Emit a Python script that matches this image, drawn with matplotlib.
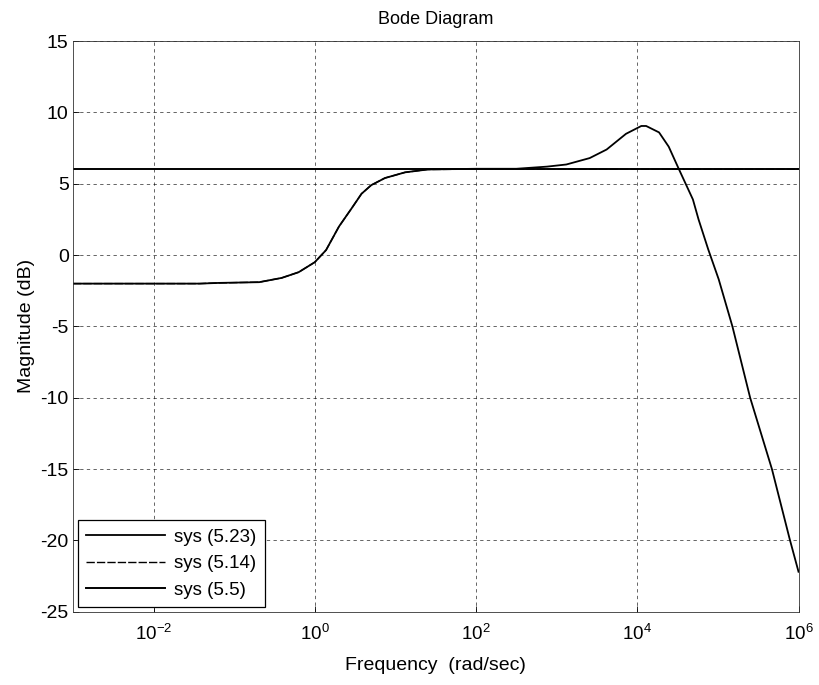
import matplotlib
matplotlib.use("Agg")
import matplotlib.pyplot as plt
import numpy as np

plt.rcParams['font.family'] = ['Liberation Sans', 'DejaVu Sans']
plt.rcParams['mathtext.default'] = 'regular'
plt.rcParams['axes.unicode_minus'] = False

# Magnitude responses (frequency in rad/sec, magnitude in dB)
freq_523 = [1e-3, 1e-2, 10**-1.43, 10**-1.18, 10**-0.69, 10**-0.41, 10**-0.2, 1.0,
            10**0.14, 10**0.30, 10**0.46, 10**0.58, 10**0.70, 10**0.87, 10**1.12,
            10**1.40, 1e2, 10**2.5, 10**2.88, 10**3.12, 10**3.41, 10**3.62, 10**3.86,
            10**4.05, 10**4.11, 10**4.27, 10**4.39, 10**4.51, 10**4.69, 10**4.76,
            10**4.88, 10**5.01, 10**5.18, 10**5.40, 10**5.67, 10**5.89, 1e6]
mag_523 = [-2.0, -2.0, -2.0, -1.95, -1.9, -1.6, -1.2, -0.5,
           0.35, 2.0, 3.3, 4.3, 4.9, 5.4, 5.8,
           6.0, 6.05, 6.05, 6.2, 6.35, 6.8, 7.4, 8.5,
           9.05, 9.05, 8.6, 7.6, 6.1, 3.9, 2.5,
           0.4, -1.7, -5.0, -10.0, -15.0, -19.9, -22.2]

freq_514 = [1e-3, 1e-2, 10**-1.43, 10**-1.18, 10**-0.69, 10**-0.41, 10**-0.2, 1.0,
            10**0.14, 10**0.30, 10**0.46, 10**0.58, 10**0.70, 10**0.87, 10**1.12,
            10**1.40, 1e2, 1e3, 1e4, 1e5, 1e6]
mag_514 = [-2.0, -2.0, -2.0, -1.95, -1.9, -1.6, -1.2, -0.5,
           0.35, 2.0, 3.3, 4.3, 4.9, 5.4, 5.8,
           6.0, 6.02, 6.02, 6.02, 6.02, 6.02]

freq_55 = [1e-3, 1e6]
mag_55 = [6.02, 6.02]

legend_labels = ['sys (5.23)', 'sys (5.14)', 'sys (5.5)']
x_ticks = [1e-2, 1e0, 1e2, 1e4, 1e6]
y_ticks = [-25, -20, -15, -10, -5, 0, 5, 10, 15]

fig = plt.figure(figsize=(8.19, 6.85), dpi=100)
ax = fig.add_axes([0.089, 0.107, 0.886, 0.833])

ax.semilogx(freq_523, mag_523, color='black', lw=1.3, ls='-', label=legend_labels[0])
ax.semilogx(freq_514, mag_514, color='black', lw=1.0, ls=(0, (6, 1.5)), label=legend_labels[1])
ax.semilogx(freq_55, mag_55, color='black', lw=1.4, ls='-', label=legend_labels[2])

ax.set_xlim(1e-3, 1e6)
ax.set_ylim(-25, 15)
ax.set_xticks(x_ticks)
ax.xaxis.set_minor_locator(matplotlib.ticker.NullLocator())
ax.set_yticks(y_ticks)
ax.tick_params(direction='in', labelsize=14, length=4, width=0.6)
ax.tick_params(axis='x', pad=9, labelsize=13.5)
ax.tick_params(axis='y', pad=3)

ax.grid(True, which='major', color='black', ls=(0, (4, 4)), lw=0.6, alpha=0.7)
for sp in ax.spines.values():
    sp.set_linewidth(0.6)
    sp.set_color('#333333')

ax.set_title('Bode Diagram', fontsize=13, pad=12)
ax.set_xlabel('Frequency  (rad/sec)', fontsize=14, labelpad=9)
ax.set_ylabel('Magnitude (dB)', fontsize=14, labelpad=4)

leg = ax.legend(loc='lower left', fontsize=13.5, handlelength=4.2, frameon=True,
                fancybox=False, edgecolor='black', borderaxespad=0.25,
                labelspacing=0.5, handletextpad=0.5, borderpad=0.45)
leg.get_frame().set_linewidth(0.9)
leg.get_frame().set_alpha(1.0)

fig.savefig('out.png', dpi=100)
